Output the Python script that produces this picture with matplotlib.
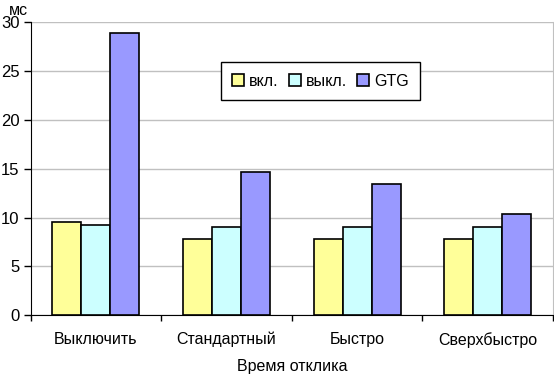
import numpy as np
import matplotlib
matplotlib.use("Agg")
import matplotlib.pyplot as plt

plt.rcParams['font.family'] = ['Liberation Sans', 'DejaVu Sans']

# Данные
categorias = ["Выключить", "Стандартный", "Быстро", "Сверхбыстро"]
series = ["вкл.", "выкл.", "GTG"]
vkl = [9.6, 7.8, 7.8, 7.8]
vykl = [9.2, 9.0, 9.0, 9.0]
gtg = [28.9, 14.7, 13.5, 10.4]
cores = ["#FFFF99", "#CCFFFF", "#9999FF"]
y_ticks = [0, 5, 10, 15, 20, 25, 30]

fig = plt.figure(figsize=(5.54, 3.74), dpi=100)
ax = fig.add_axes([0.0554, 0.157, 0.9426, 0.783])

x = np.arange(len(categorias)) + 0.5
largura = 0.222
for i, (nome, valores) in enumerate(zip(series, [vkl, vykl, gtg])):
    ax.bar(x + (i - 1) * largura, valores, largura, color=cores[i],
           edgecolor="black", linewidth=1.2, label=nome, zorder=3)

ax.set_xlim(0, 4)
ax.set_ylim(0, 30)
ax.set_yticks(y_ticks)
ax.yaxis.grid(True, color="#C0C0C0", linewidth=1, zorder=0)
ax.set_xticks([0, 1, 2, 3, 4])
ax.set_xticklabels([])
ax.set_xticks(x, minor=True)
ax.set_xticklabels(categorias, minor=True, fontsize=11.5)
ax.tick_params(axis="x", which="minor", length=0, pad=12)
ax.tick_params(axis="x", which="major", length=4, width=1, direction="out")
ax.tick_params(axis="y", length=5, width=1, labelsize=12, pad=3)

ax.spines["top"].set_visible(False)
ax.spines["right"].set_color("#C0C0C0")
ax.spines["left"].set_color("black")
ax.spines["bottom"].set_color("black")

ax.set_xlabel("Время отклика", fontsize=11.5, labelpad=8)
fig.text(0.016, 0.972, "мс", fontsize=11.5, va="center", ha="left")

leg = ax.legend(ncol=3, loc="center", bbox_to_anchor=(213 / 554, 1 - 100 / 374, 215 / 554, 38 / 374),
                bbox_transform=fig.transFigure, mode="expand", fancybox=False, framealpha=1,
                edgecolor="black", handlelength=0.75, handleheight=0.75, handletextpad=0.3,
                columnspacing=1.5, fontsize=11.5, borderpad=0.7)
leg.get_frame().set_linewidth(1)

fig.savefig("out.png", dpi=100)
